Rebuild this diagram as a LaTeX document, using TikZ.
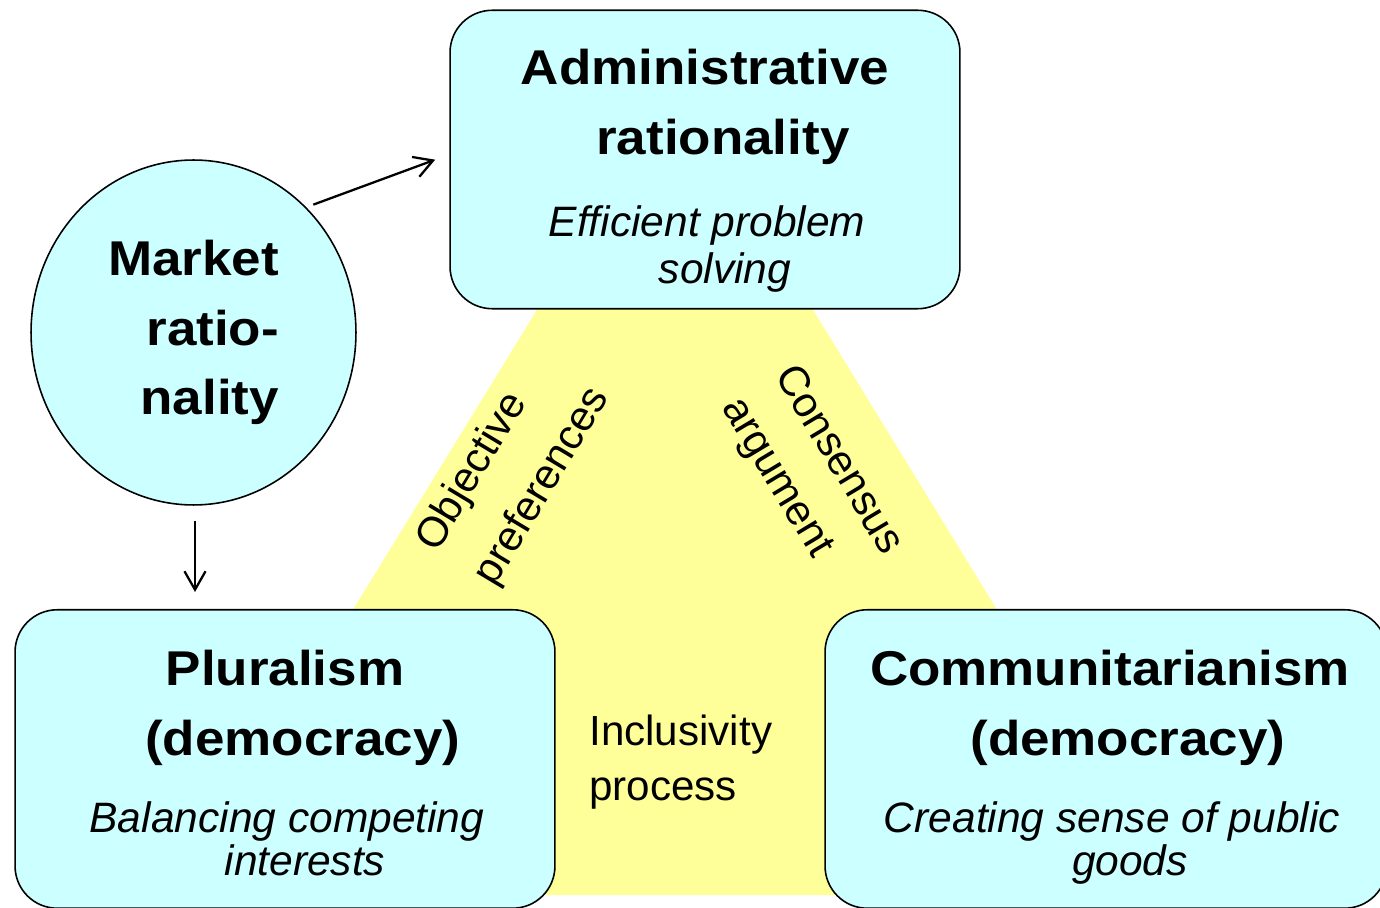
\documentclass[tikz,border=0pt]{standalone}
\usepackage{fontspec}
\setmainfont{Liberation Sans}
\newfontfamily\headfont[FakeStretch=1.085]{Liberation Sans}
\usepackage{tikz}
\usetikzlibrary{shapes.geometric,arrows.meta}
\definecolor{boxcyan}{HTML}{CCFFFF}
\definecolor{padyellow}{HTML}{FFFF99}
\newcommand{\leadgap}{\hspace*{20.4pt}}

\begin{document}
\begin{tikzpicture}[x=0.02cm,y=-0.02cm,
  box/.style={draw,line width=0.9pt,fill=boxcyan,rounded corners=24pt,inner sep=0pt},
  boxhead/.style={anchor=north,inner sep=0pt,align=center,font=\headfont\bfseries\fontsize{27.8}{39.7}\selectfont},
  boxsub/.style={anchor=north,inner sep=0pt,align=center,font=\itshape\fontsize{24.2}{#1}\selectfont},
  sidelabel/.style={inner sep=0pt,align=left,font=\fontsize{24}{#1}\selectfont},
  arr/.style={line width=1.3pt,-{Straight Barb[length=10.5pt,width=12pt]}}]
\useasboundingbox (0,0) rectangle (1380,908);

\fill[padyellow] (543,300) -- (807,300) -- (1172,895) -- (178,895) -- cycle;

\foreach \name/\x/\y/\w in {adm/705/159.5/10.2, plur/285/759/10.8, comm/1106/759/11.24}{
  \node[box,minimum width=\w cm,minimum height=5.97cm] (\name) at (\x,\y) {};
}

\node[boxhead] (adm-t) at (705,49) {Administrative\\\leadgap rationality};
\node[boxsub=27] (adm-s) at (707,205) {Efficient problem\\\leadgap solving};
\node[boxhead] (plur-t) at (285,650) {Pluralism\\\leadgap(democracy)};
\node[boxsub=24.4] (plur-s) at (287,801) {Balancing competing\\\leadgap interests};
\node[boxhead] (comm-t) at (1110,650) {Communitarianism\\\leadgap(democracy)};
\node[boxsub=24.4] (comm-s) at (1112,801) {Creating sense of public\\\leadgap goods};

\node[draw,ellipse,line width=0.9pt,fill=boxcyan,minimum width=6.5cm,minimum height=6.9cm,
  align=right,font=\headfont\bfseries\fontsize{27.8}{39.4}\selectfont] (mkt) at (193.5,332.5) {Market\\ratio-\\nality};

\node[sidelabel=38.5,rotate=59] (obj) at (514,469.5) {Objective\\preferences};
\node[sidelabel=35.1,rotate=-59] (cons) at (811,476.5) {Consensus\\argument};
\node[sidelabel=31,anchor=north west] (incl) at (589,715) {Inclusivity\\process};

\draw[arr,shorten <=0.15cm,shorten >=0.3cm] (mkt.48) -- ([yshift=0.1cm]adm.west);
\draw[arr,shorten <=0.3cm,shorten >=0.34cm] ([xshift=0.03cm]mkt.south) -- ([xshift=0.03cm]mkt.south |- plur.north);

\end{tikzpicture}
\end{document}
